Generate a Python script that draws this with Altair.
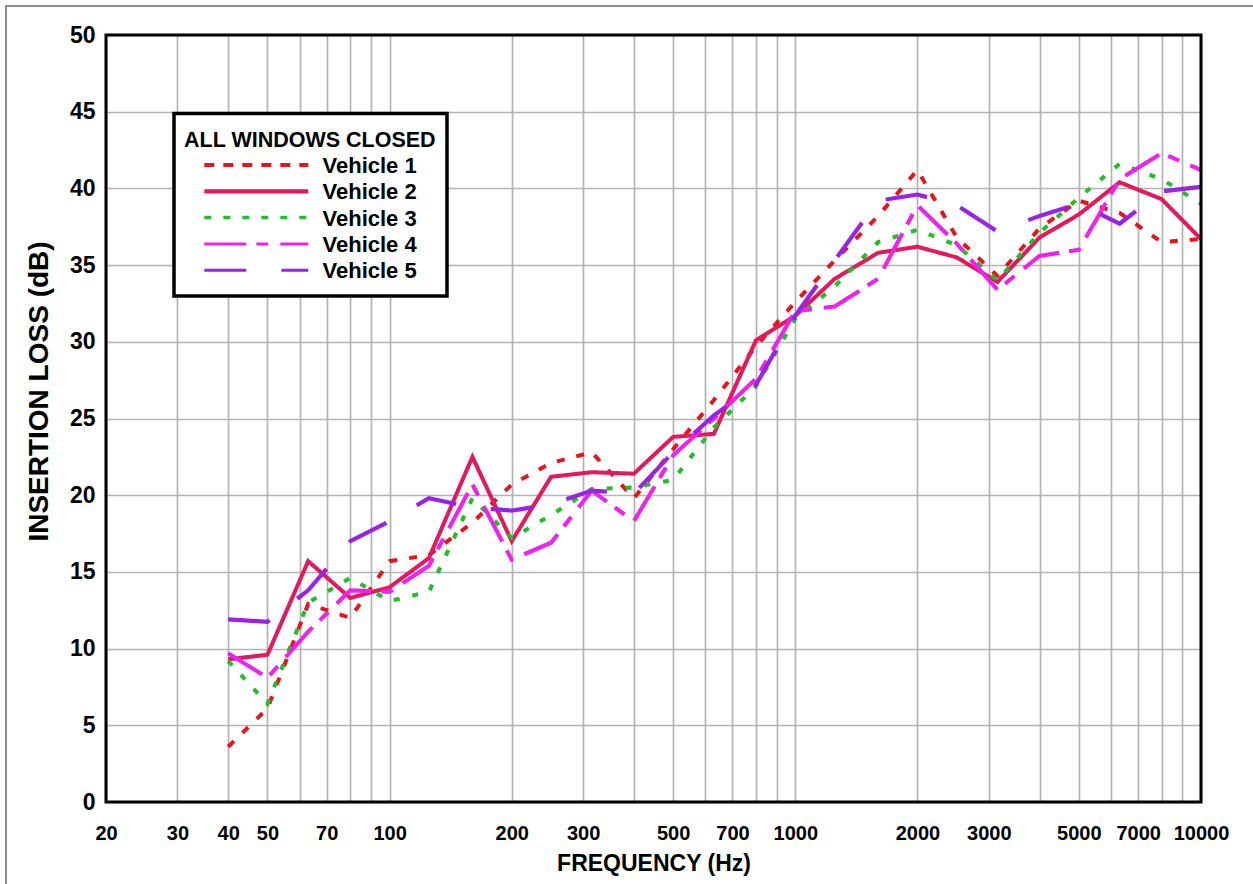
import altair as alt
import pandas as pd

# One-third octave band centre frequencies (Hz)
freq_hz = [40, 50, 63, 80, 100, 125, 160, 200, 250, 315, 400, 500, 630, 800,
           1000, 1250, 1600, 2000, 2500, 3150, 4000, 5000, 6300, 8000, 10000]

# Insertion loss (dB) per vehicle, all windows closed
vehicle_1 = [3.6, 6.1, 12.9, 12.0, 15.7, 16.1, 18.2, 20.7, 22.1, 22.8, 19.8, 23.0, 26.2,
             29.7, 32.6, 35.3, 38.2, 41.2, 36.8, 34.3, 37.4, 39.2, 38.4, 36.5, 36.7]
vehicle_2 = [9.3, 9.6, 15.7, 13.3, 14.0, 15.9, 22.5, 17.0, 21.2, 21.5, 21.4, 23.8, 24.0,
             30.1, 31.7, 34.1, 35.8, 36.2, 35.5, 33.9, 36.8, 38.3, 40.4, 39.3, 36.7]
vehicle_3 = [9.2, 6.4, 13.0, 14.6, 13.1, 13.7, 19.8, 17.2, 18.7, 20.4, 20.5, 21.0, 24.4,
             27.1, 31.5, 33.6, 36.5, 37.3, 36.3, 34.0, 37.1, 39.4, 41.6, 40.6, 39.0]
vehicle_4 = [9.7, 8.1, 11.1, 13.8, 13.7, 15.4, 20.7, 15.8, 16.9, 20.3, 18.3, 22.6, 25.0,
             27.6, 32.0, 32.3, 34.1, 38.9, 36.4, 33.4, 35.6, 36.0, 40.6, 42.3, 41.2]
vehicle_5 = [11.9, 11.75, 13.8, 17.0, 18.3, 19.8, 19.2, 19.0, 19.4, 20.3, 20.1, 22.8, 25.2,
             27.2, 31.7, 35.3, 39.2, 39.6, 38.9, 37.2, 38.2, 39.0, 37.7, 39.8, 40.1]

vehicles = ["Vehicle 1", "Vehicle 2", "Vehicle 3", "Vehicle 4", "Vehicle 5"]
series = [vehicle_1, vehicle_2, vehicle_3, vehicle_4, vehicle_5]

# Axis ticks
grid_x = ([20, 30, 40, 50, 60, 70, 80, 90]
          + [100, 200, 300, 400, 500, 600, 700, 800, 900]
          + [1000, 2000, 3000, 4000, 5000, 6000, 7000, 8000, 9000, 10000])
labeled_x = [20, 30, 40, 50, 70, 100, 200, 300, 500, 700, 1000, 2000, 3000, 5000, 7000, 10000]
y_ticks = list(range(0, 51, 5))

# Line styling
line_colors = ["#e8141a", "#e3195b", "#22be2a", "#ee22ee", "#9a22e4"]
line_dashes = [[8, 12], [1, 0], [6, 13], [40, 10, 12, 12], [42, 35]]
legend_dashes = [[10, 9], [1, 0], [7, 12], [42, 10, 12, 12], [42, 35]]
line_widths = [4, 4.2, 3.5, 3, 3]

FONT = "Liberation Sans"
W, H = 1095, 767
PAD = {"left": 106, "top": 35, "right": 52, "bottom": 82}

rows = []
for name, vals in zip(vehicles, series):
    for f, v in zip(freq_hz, vals):
        rows.append({"freq": f, "loss": v, "vehicle": name})
df = pd.DataFrame(rows)

label_expr = f"indexof({labeled_x}, datum.value) >= 0 ? format(datum.value, 'd') : ''"

x_enc = alt.X(
    "freq:Q",
    scale=alt.Scale(type="log", domain=[20, 10000], nice=False),
    axis=alt.Axis(values=grid_x, labelExpr=label_expr, labelFontSize=20,
                  labelPadding=21, labelOverlap=False, labelFlush=False,
                  titleFontSize=23, titlePadding=9),
    title="FREQUENCY (Hz)",
)
y_enc = alt.Y(
    "loss:Q",
    scale=alt.Scale(domain=[0, 50], nice=False),
    axis=alt.Axis(values=y_ticks, labelFontSize=23, labelPadding=11,
                  titleFontSize=28, titleX=-53, titleY=356, titleAngle=270,
                  titleBaseline="bottom", titleAlign="center"),
    title="INSERTION LOSS (dB)",
)

lines = alt.Chart(df).mark_line(strokeMiterLimit=4).encode(
    x=x_enc,
    y=y_enc,
    color=alt.Color("vehicle:N", scale=alt.Scale(domain=vehicles, range=line_colors), legend=None),
    strokeDash=alt.StrokeDash("vehicle:N", scale=alt.Scale(domain=vehicles, range=line_dashes), legend=None),
    strokeWidth=alt.StrokeWidth("vehicle:O", scale=alt.Scale(domain=vehicles, range=line_widths), legend=None),
)

one = pd.DataFrame({"k": [0]})

# Heavy frame around the plot area
frame = alt.Chart(one).mark_rect(fillOpacity=0, stroke="black", strokeWidth=3).encode(
    x=alt.value(0), x2=alt.value(W), y=alt.value(0), y2=alt.value(H)
)

# Thin grey border of the figure (left and top edges)
border = alt.Chart(one).mark_rect(fillOpacity=0, stroke="#8f8f8f", strokeWidth=2).encode(
    x=alt.value(-100), x2=alt.value(W + 80), y=alt.value(-29), y2=alt.value(H + 100)
)

# Legend box
legend_box = alt.Chart(one).mark_rect(fill="white", stroke="black", strokeWidth=3.5).encode(
    x=alt.value(68), x2=alt.value(341), y=alt.value(78.5), y2=alt.value(261)
)
legend_title = alt.Chart(one).mark_text(
    align="left", baseline="alphabetic", font=FONT, fontSize=21.5, fontWeight="bold", color="black"
).encode(x=alt.value(78), y=alt.value(112), text=alt.value("ALL WINDOWS CLOSED"))

legend_layers = []
for i, name in enumerate(vehicles):
    row_y = 130 + 26.3 * i
    legend_layers.append(
        alt.Chart(one).mark_rule(
            color=line_colors[i], strokeDash=legend_dashes[i], strokeWidth=line_widths[i]
        ).encode(x=alt.value(98.3), x2=alt.value(202.3), y=alt.value(row_y))
    )
    legend_layers.append(
        alt.Chart(one).mark_text(
            align="left", baseline="alphabetic", font=FONT, fontSize=22, fontWeight="bold", color="black"
        ).encode(x=alt.value(216.5), y=alt.value(row_y + 8), text=alt.value(name))
    )

chart = alt.layer(
    lines, frame, legend_box, legend_title, *legend_layers, border
).properties(
    width=W, height=H, padding=PAD, autosize=alt.AutoSizeParams(type="none")
).configure_view(
    stroke=None
).configure_axis(
    labelFont=FONT, titleFont=FONT, labelFontWeight="bold", titleFontWeight="bold",
    labelColor="black", titleColor="black", gridColor="#b3b3b3", gridWidth=1.7,
    domain=False, ticks=False, tickSize=0
)

chart.save("out.html", embed_options={"renderer": "svg", "actions": False})
